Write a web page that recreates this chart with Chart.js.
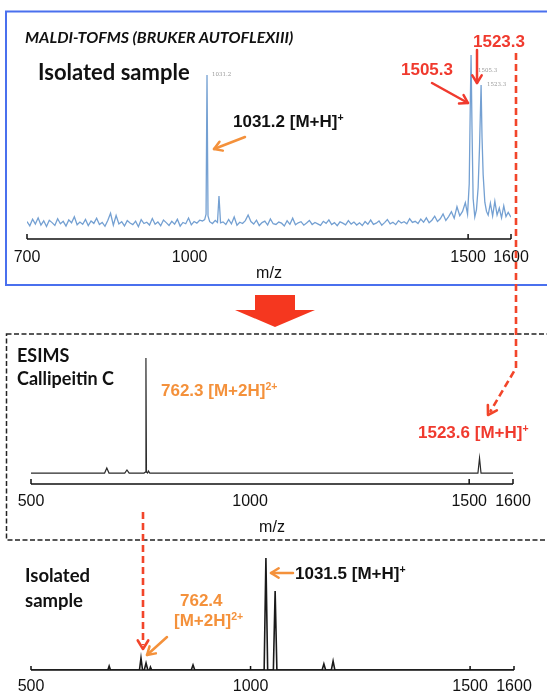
<!DOCTYPE html>
<html>
<head>
<meta charset="utf-8">
<script src="https://cdn.jsdelivr.net/npm/chart.js@4.4.1/dist/chart.umd.min.js"></script>
<style>
  html, body { margin: 0; padding: 0; background: #fff; }
  #fig { position: relative; width: 547px; height: 696px; overflow: hidden; font-family: "Liberation Sans", Arial, sans-serif; }
  #fig canvas { position: absolute; left: 0; }
  #overlay { position: absolute; left: 0; top: 0; }
  .t { position: absolute; white-space: nowrap; line-height: 1; transform: translateY(-50%); }
  .lab { font-family: Lato, "Open Sans", sans-serif; font-weight: 700; color: #111; }
  .ann { font-weight: 700; font-size: 17px; }
  .red { color: #f03a2e; }
  .orange { color: #f4913b; }
  .blk { color: #111; }
  .tiny { font-family: "DejaVu Serif", serif; font-size: 5.5px; color: #999; }
  sup { font-size: 0.62em; vertical-align: 0.55em; line-height: 0; }
</style>
</head>
<body>
<div id="fig">
  <canvas id="maldiChart" width="547" height="290" style="top:0px"></canvas>
  <canvas id="esiChart" width="547" height="206" style="top:334px"></canvas>
  <canvas id="isoChart" width="547" height="156" style="top:540px"></canvas>
  <svg id="overlay" width="547" height="696"></svg>

  <div class="t lab" style="left:25px;top:37px;font-size:16px;font-style:italic">MALDI-TOFMS (BRUKER AUTOFLEXIII)</div>
  <div class="t lab" style="left:38px;top:72px;font-size:22px">Isolated sample</div>
  <div class="t tiny" style="left:212px;top:75px">1031.2</div>
  <div class="t tiny" style="left:478px;top:71px">1505.3</div>
  <div class="t tiny" style="left:487px;top:85px">1523.3</div>
  <div class="t ann blk" style="left:233px;top:121px">1031.2 [M+H]<sup>+</sup></div>
  <div class="t ann red" style="left:401px;top:69px">1505.3</div>
  <div class="t ann red" style="left:473px;top:41px">1523.3</div>

  <div class="t lab" style="left:17px;top:355px;font-size:18px">ESIMS</div>
  <div class="t lab" style="left:17px;top:378px;font-size:18px">Callipeitin C</div>
  <div class="t ann orange" style="left:161px;top:390px">762.3 [M+2H]<sup>2+</sup></div>
  <div class="t ann red" style="left:418px;top:432px">1523.6 [M+H]<sup>+</sup></div>

  <div class="t lab" style="left:25px;top:575px;font-size:18.5px">Isolated</div>
  <div class="t lab" style="left:25px;top:600px;font-size:18.5px">sample</div>
  <div class="t ann orange" style="left:180px;top:600px">762.4</div>
  <div class="t ann orange" style="left:174px;top:620px">[M+2H]<sup>2+</sup></div>
  <div class="t ann blk" style="left:295px;top:573px">1031.5 [M+H]<sup>+</sup></div>
</div>

<script>
// ---- MALDI-TOF spectrum (top panel), m/z and relative intensity ----
const maldiMz = [
  708, 713, 718, 723, 728, 733, 738, 743, 748, 753, 758, 763, 768, 773, 778, 783,
  788, 793, 798, 803, 808, 813, 818, 823, 828, 833, 838, 843, 848, 853, 858, 863,
  868, 873, 878, 883, 888, 893, 898, 903, 908, 913, 918, 923, 928, 933, 938, 943,
  948, 953, 958, 963, 968, 973, 978, 983, 988, 993, 998, 1003, 1008, 1013, 1018, 1023,
  1027, 1029.5, 1031.2, 1033, 1036,
  1041, 1046, 1050, 1052.7, 1055.5,
  1060, 1065, 1070, 1075, 1080, 1085, 1090, 1095, 1100,
  1105, 1110, 1115, 1120, 1125, 1130, 1135, 1140, 1145, 1150, 1155, 1160, 1165, 1170, 1175, 1180, 1185, 1190, 1195, 1200,
  1205, 1210, 1215, 1220, 1225, 1230, 1235, 1240, 1245, 1250, 1255, 1260, 1265, 1270, 1275, 1280, 1285, 1290, 1295, 1300,
  1305, 1310, 1315, 1320, 1325, 1330, 1335, 1340, 1345, 1350, 1355, 1360, 1365, 1370, 1375, 1380, 1385, 1390, 1395, 1400,
  1405, 1410, 1415, 1420, 1425, 1430, 1435, 1440, 1445, 1450, 1455, 1460, 1465, 1470, 1475, 1480, 1485, 1490, 1495,
  1499, 1502, 1504, 1505.3, 1507, 1509, 1512, 1515, 1518, 1520.5, 1523.3, 1525, 1527, 1530, 1533, 1536,
  1540, 1544, 1548, 1552, 1556, 1560, 1564, 1568, 1572, 1577
];
const maldiIntensity = [
  9.5, 7.2, 10.8, 8.1, 11.5, 7.6, 9.9, 6.8, 10.2, 8.9, 7.4, 11.0, 8.3, 9.6, 7.0, 10.4,
  8.8, 12.1, 7.7, 9.2, 8.0, 10.6, 7.3, 9.8, 8.5, 11.3, 7.9, 9.0, 6.9, 10.1, 14.0, 7.5,
  12.8, 8.2, 9.4, 7.1, 10.0, 8.7, 7.8, 9.7, 6.7, 10.5, 8.4, 9.1, 7.6, 11.1, 8.0, 9.3,
  7.2, 10.3, 8.9, 7.4, 9.6, 8.1, 10.7, 7.0, 9.0, 8.3, 11.4, 7.7, 9.5, 8.6, 10.2, 9.8,
  10.5, 13.5, 89.1, 12.5, 9.4,
  8.4, 10.1, 9.0, 23.4, 8.8,
  9.3, 7.9, 10.6, 8.2, 12.0, 7.5, 9.1, 8.4, 10.0,
  13.0, 9.5, 8.1, 10.2, 7.3, 8.9, 9.7, 7.6, 10.9, 8.3, 7.9, 9.2, 8.6, 7.1, 9.9, 8.0, 11.3, 7.7, 8.8, 9.4,
  7.5, 8.7, 10.1, 7.9, 9.0, 8.2, 7.4, 9.6, 8.5, 10.4, 7.8, 8.9, 7.2, 9.3, 8.6, 7.7, 10.0, 8.1, 9.2, 7.6,
  8.8, 7.3, 9.5, 8.0, 10.3, 7.9, 8.6, 9.8, 7.5, 8.9, 10.6, 8.2, 9.1, 7.8, 10.0, 8.7, 9.4, 8.3, 11.0, 9.0,
  9.6, 8.4, 10.8, 9.1, 11.5, 8.8, 10.2, 12.4, 9.5, 11.0, 13.6, 10.1, 12.2, 14.8, 11.3, 17.5, 12.6, 15.0, 19.8,
  13.5, 30, 75, 100, 60, 22, 12, 16, 28, 50, 83.7, 55, 35, 20, 15, 13,
  19.5, 12.5, 20.5, 13, 16.8, 11.5, 18, 12.2, 14.5, 11.8
];
// hand-drawn axis: its end brackets carry the 700 and 1600 labels
const maldiTicks = [708, 1000, 1500, 1577];
const maldiTickLabels = ['700', '1000', '1500', '1600'];
const maldiMarks = [708, 1500, 1577];

// ---- ESIMS of callipeitin C (middle panel) ----
const esiMz = [500, 668, 673, 678, 714, 719, 724, 758, 761, 762.3, 763.5, 766, 768, 771, 1520, 1523.6, 1527, 1600];
const esiIntensity = [8.7, 8.7, 12.7, 8.7, 8.7, 11.1, 8.7, 8.7, 9.5, 100, 9.5, 8.7, 10.3, 8.7, 8.7, 20.6, 8.7, 8.7];
const esiTicks = [500, 1000, 1500, 1600];
const esiTickLabels = ['500', '1000', '1500', '1600'];
const esiMarks = [500, 1500, 1600];

// ---- ESIMS of the isolated sample (bottom panel) ----
const isoMz = [500, 675, 678, 681, 747, 750.5, 754, 758, 762, 766, 770, 772, 775, 865, 869, 873,
  1031, 1035, 1039, 1052, 1056, 1060, 1163, 1167, 1171, 1184, 1188, 1192, 1600];
const isoIntensity = [0, 0, 3.6, 0, 0, 10.7, 0, 0, 6.3, 0, 0, 2.7, 0, 0, 4.5, 0,
  0, 100, 0, 0, 70.5, 0, 0, 5.4, 0, 0, 8.0, 0, 0];
const isoTicks = [500, 1000, 1500, 1600];
const isoTickLabels = ['500', '1000', '1500', '1600'];
const isoMarks = [500, 1000, 1500, 1600];

const toPoints = (xs, ys) => xs.map((x, i) => ({ x: x, y: ys[i] }));

// axis line with small upward bracket ticks
const bracketAxis = {
  id: 'bracketAxis',
  afterDatasetsDraw(chart, args, opts) {
    const sx = chart.scales.x;
    const y0 = chart.chartArea.bottom;
    const ctx = chart.ctx;
    ctx.save();
    ctx.strokeStyle = opts.color;
    ctx.lineWidth = opts.width;
    ctx.beginPath();
    ctx.moveTo(sx.left, y0);
    ctx.lineTo(sx.right, y0);
    opts.marks.forEach(v => {
      const px = sx.getPixelForValue(v);
      ctx.moveTo(px, y0);
      ctx.lineTo(px, y0 - opts.tickLen);
    });
    ctx.stroke();
    ctx.restore();
  }
};

function makeSpectrum(id, cfg) {
  return new Chart(document.getElementById(id), {
    type: 'line',
    data: {
      datasets: [{
        data: toPoints(cfg.mz, cfg.intensity),
        borderColor: cfg.color,
        borderWidth: cfg.lineWidth,
        pointRadius: 0,
        tension: 0,
        fill: false
      }]
    },
    options: {
      responsive: false,
      animation: false,
      events: [],
      layout: { padding: cfg.padding },
      plugins: {
        legend: { display: false },
        tooltip: { enabled: false },
        bracketAxis: { marks: cfg.marks, tickLen: cfg.tickLen, color: '#111', width: 1.5 }
      },
      scales: {
        x: {
          type: 'linear',
          min: cfg.min,
          max: cfg.max,
          grid: { display: false, drawTicks: false },
          border: { display: false },
          afterBuildTicks: s => { s.ticks = cfg.ticks.map(v => ({ value: v })); },
          afterFit: s => { s.height = cfg.axisHeight; },
          ticks: {
            autoSkip: false,
            maxRotation: 0,
            padding: cfg.labelPad,
            color: '#111',
            font: { family: '"Liberation Sans", Arial, sans-serif', size: 16 },
            callback: (v, i) => cfg.tickLabels[i]
          },
          title: {
            display: cfg.showTitle,
            text: 'm/z',
            color: '#111',
            font: { family: '"Liberation Sans", Arial, sans-serif', size: 16 },
            padding: { top: 0, bottom: cfg.titlePad }
          }
        },
        y: { display: false, min: 0, max: 100 }
      }
    },
    plugins: [bracketAxis]
  });
}

makeSpectrum('maldiChart', {
  mz: maldiMz, intensity: maldiIntensity, color: '#74a0d2', lineWidth: 1.3,
  min: 708, max: 1577, ticks: maldiTicks, tickLabels: maldiTickLabels, marks: maldiMarks,
  padding: { left: 27, right: 36, top: 55, bottom: 0 },
  axisHeight: 51, labelPad: 9, showTitle: true, titlePad: 7, tickLen: 5
});

makeSpectrum('esiChart', {
  mz: esiMz, intensity: esiIntensity, color: '#2a2a2a', lineWidth: 1.2,
  min: 500, max: 1600, ticks: esiTicks, tickLabels: esiTickLabels, marks: esiMarks,
  padding: { left: 31, right: 34, top: 24, bottom: 0 },
  axisHeight: 56, labelPad: 8, showTitle: true, titlePad: 3, tickLen: 5
});

makeSpectrum('isoChart', {
  mz: isoMz, intensity: isoIntensity, color: '#1a1a1a', lineWidth: 1.6,
  min: 500, max: 1600, ticks: isoTicks, tickLabels: isoTickLabels, marks: isoMarks,
  padding: { left: 31, right: 33, top: 18, bottom: 0 },
  axisHeight: 26, labelPad: 7, showTitle: false, titlePad: 0, tickLen: 4
});

// ---- frames, arrows and connectors (figure annotations) ----
const svg = document.getElementById('overlay');
const NS = 'http://www.w3.org/2000/svg';
function add(tag, attrs) {
  const el = document.createElementNS(NS, tag);
  Object.keys(attrs).forEach(k => el.setAttribute(k, attrs[k]));
  svg.appendChild(el);
  return el;
}
function head(x1, y1, x2, y2, color, w, len) {
  const a = Math.atan2(y2 - y1, x2 - x1);
  const p1 = [x2 - len * Math.cos(a - 0.55), y2 - len * Math.sin(a - 0.55)];
  const p2 = [x2 - len * Math.cos(a + 0.55), y2 - len * Math.sin(a + 0.55)];
  add('polyline', {
    points: p1.join(',') + ' ' + x2 + ',' + y2 + ' ' + p2.join(','),
    fill: 'none', stroke: color, 'stroke-width': w, 'stroke-linecap': 'round', 'stroke-linejoin': 'round'
  });
}
function arrow(x1, y1, x2, y2, color, w) {
  add('line', { x1: x1, y1: y1, x2: x2, y2: y2, stroke: color, 'stroke-width': w, 'stroke-linecap': 'round' });
  head(x1, y1, x2, y2, color, w, 9);
}

add('rect', { x: 6, y: 11.5, width: 560, height: 273.5, fill: 'none', stroke: '#4a70ee', 'stroke-width': 2 });
add('rect', { x: 6.5, y: 334, width: 560, height: 206, fill: 'none', stroke: '#222', 'stroke-width': 1.5, 'stroke-dasharray': '5 2.5' });
add('polygon', { points: '255,295 295,295 295,310 315,310 275,327 235,310 255,310', fill: '#f5371f' });

const RED = '#f03a2e', ORANGE = '#f4913b';
add('polyline', { points: '516,53 516,368 490,412', fill: 'none', stroke: '#f2452a', 'stroke-width': 2.6, 'stroke-dasharray': '7 4' });
head(516, 368, 488, 415, '#f2452a', 2.6, 10);
add('line', { x1: 143, y1: 512, x2: 143, y2: 645, stroke: '#f2452a', 'stroke-width': 2.6, 'stroke-dasharray': '7 4' });
head(143, 600, 143, 649, '#f2452a', 2.6, 10);

arrow(245, 137, 214, 149, ORANGE, 2.5);
arrow(432, 83, 468, 103, RED, 2.5);
arrow(477, 50, 477, 83, RED, 2.5);
arrow(167, 637, 147, 655, ORANGE, 2.5);
arrow(293, 573, 271, 573, ORANGE, 2.5);
</script>
</body>
</html>
